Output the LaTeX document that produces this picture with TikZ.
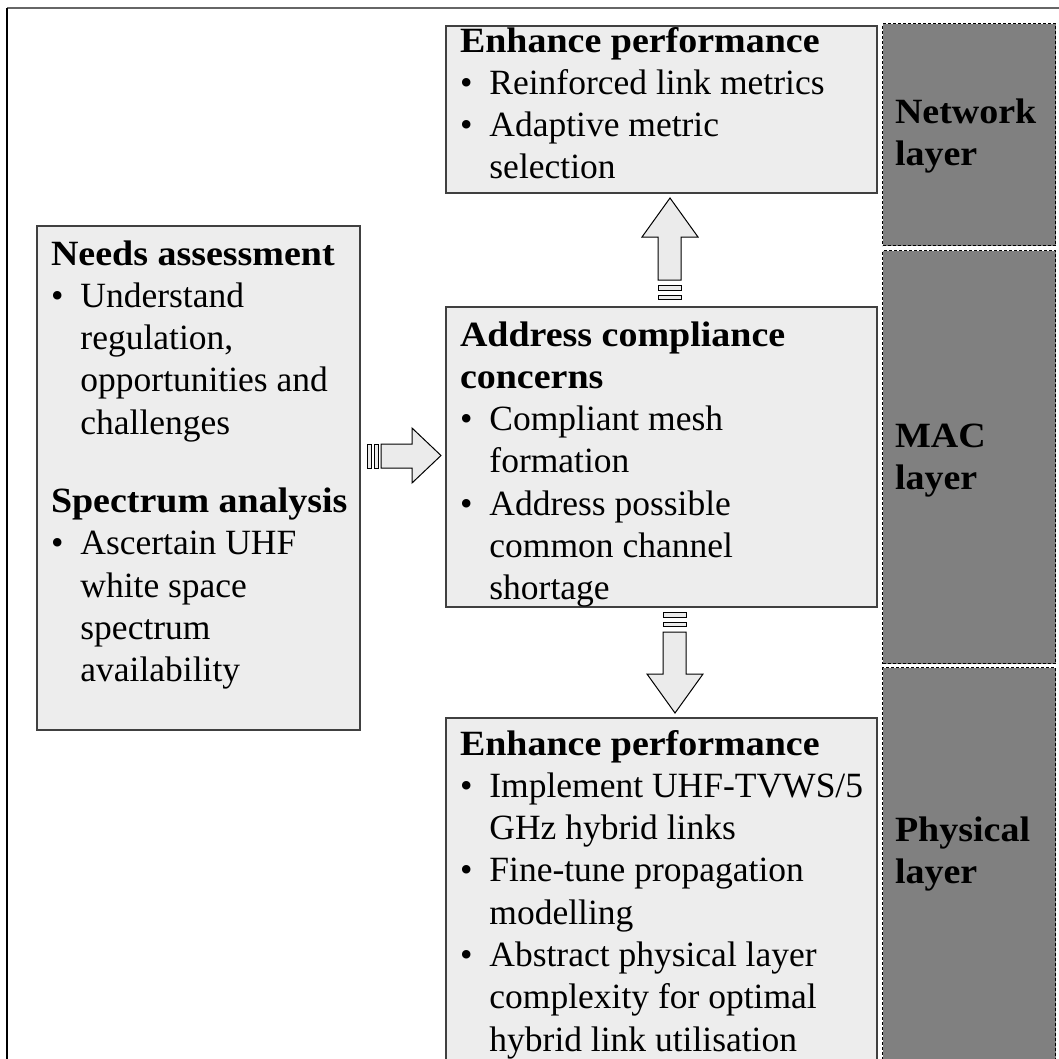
\documentclass[tikz,border=0pt]{standalone}
\usepackage{fontspec}
\setmainfont{Liberation Serif}[BoldFeatures={FakeStretch=1.07}]
\usepackage{array}
\begin{document}
\begin{tikzpicture}[x=1pt,y=-1pt,
  box/.style={draw=black!75,line width=1.6pt,fill=black!7,anchor=north west,inner sep=0pt,outer sep=0pt},
  layerbox/.style={draw=black,line width=1.1pt,dash pattern=on 3pt off 2pt,fill=black!50,anchor=north west,inner sep=0pt},
  txt/.style={anchor=base west,inner sep=0pt,outer sep=0pt,font=\fontsize{35.5}{42.3}\selectfont},
  blockarrow/.style={draw=black,line width=1pt,fill=black!8,line join=miter},
  frameline/.style={line width=1.8pt}]
\useasboundingbox (0,0) rectangle (1059,1058);
\clip (0,0) rectangle (1059,1058);
\fill[white] (0,0) rectangle (1059,1058);

% outer frame
\draw[frameline,black!60] (7,8) -- (1070,8);
\draw[frameline,black] (7,8) -- (7,1070);

% layer bands
\node[layerbox,minimum width=173,minimum height=222] (netlayer) at (882,23) {};
\node[layerbox,minimum width=173,minimum height=413] (maclayer) at (882,250) {};
\node[layerbox,minimum width=173,minimum height=420] (phylayer) at (882,667) {};

% content boxes
\node[box,minimum width=431,minimum height=167] (netbox) at (446,26) {};
\node[box,minimum width=323,minimum height=504] (needbox) at (37,226) {};
\node[box,minimum width=431,minimum height=300] (macbox) at (446,307) {};
\node[box,minimum width=431,minimum height=380] (phybox) at (446,718) {};

\newcommand{\bl}{\textbullet}
% network layer contents
\node[txt] (nettext) at (460,52) {\begin{tabular}[t]{@{}l@{\hspace{17pt}}l@{}}
\multicolumn{2}{@{}l@{}}{\textbf{Enhance performance}}\\
\bl & Reinforced link metrics\\
\bl & Adaptive metric\\
 & selection
\end{tabular}};

% needs assessment contents
\node[txt] (needtext) at (51,265) {\begin{tabular}[t]{@{}l@{\hspace{17pt}}l@{}}
\multicolumn{2}{@{}l@{}}{\textbf{Needs assessment}}\\
\bl & Understand\\
 & regulation,\\
 & opportunities and\\
 & challenges\\[36pt]
\multicolumn{2}{@{}l@{}}{\textbf{Spectrum analysis}}\\
\bl & Ascertain UHF\\
 & white space\\
 & spectrum\\
 & availability
\end{tabular}};

% MAC layer contents
\node[txt] (mactext) at (460,346) {\begin{tabular}[t]{@{}l@{\hspace{17pt}}l@{}}
\multicolumn{2}{@{}l@{}}{\textbf{Address compliance}}\\
\multicolumn{2}{@{}l@{}}{\textbf{concerns}}\\
\bl & Compliant mesh\\
 & formation\\
\bl & Address possible\\
 & common channel\\
 & shortage
\end{tabular}};

% physical layer contents
\node[txt] (phytext) at (460,755) {\begin{tabular}[t]{@{}l@{\hspace{17pt}}l@{}}
\multicolumn{2}{@{}l@{}}{\textbf{Enhance performance}}\\
\bl & Implement UHF-TVWS/5\\
 & GHz hybrid links\\
\bl & Fine-tune propagation\\
 & modelling\\
\bl & Abstract physical layer\\
 & complexity for optimal\\
 & hybrid link utilisation
\end{tabular}};

% layer labels
\node[txt] (netlabel) at (895,123) {\begin{tabular}[t]{@{}l@{}}\textbf{Network}\\\textbf{layer}\end{tabular}};
\node[txt] (maclabel) at (895,447) {\begin{tabular}[t]{@{}l@{}}\textbf{MAC}\\\textbf{layer}\end{tabular}};
\node[txt] (phylabel) at (895,841) {\begin{tabular}[t]{@{}l@{}}\textbf{Physical}\\\textbf{layer}\end{tabular}};

% block arrow: MAC box up to network box
\draw[blockarrow] (658,280) -- (658,237) -- (642,237) -- (670,198) -- (698,237) -- (681,237) -- (681,280) -- cycle;
\draw[blockarrow] (658,285) rectangle (681,290);
\draw[blockarrow] (658,295) rectangle (681,299);

% block arrow: needs assessment to MAC box
\draw[blockarrow] (381,444) -- (412,444) -- (412,428) -- (441,455.5) -- (412,483) -- (412,468) -- (381,468) -- cycle;
\draw[blockarrow] (367,444) rectangle (371,468);
\draw[blockarrow] (374,444) rectangle (378,468);

% block arrow: MAC box down to physical box
\draw[blockarrow] (663,632) -- (686,632) -- (686,674) -- (703,674) -- (675,713) -- (647,674) -- (663,674) -- cycle;
\draw[blockarrow] (663,612) rectangle (686,617);
\draw[blockarrow] (663,622) rectangle (686,626);
\end{tikzpicture}
\end{document}
